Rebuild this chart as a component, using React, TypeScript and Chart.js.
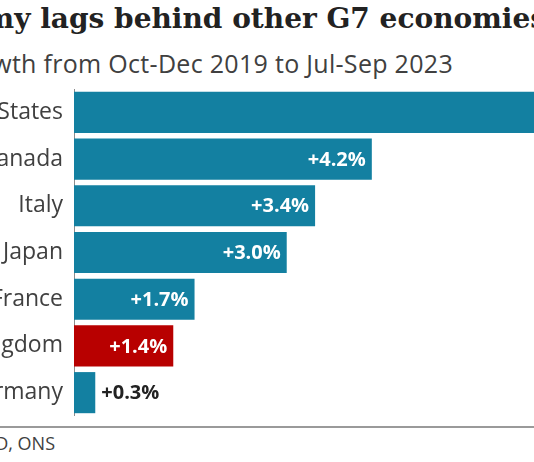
import React, { useEffect, useRef } from "react";
import { Chart, registerables } from "chart.js";

Chart.register(...registerables);

const countries = ["United States", "Canada", "Italy", "Japan", "France", "United Kingdom", "Germany"];
const growth = [7.4, 4.2, 3.4, 3.0, 1.7, 1.4, 0.3];
const highlight = ["United Kingdom"];

const TITLE = "Germany's economy lags behind other G7 economies";
const SUBTITLE = "GDP growth from Oct-Dec 2019 to Jul-Sep 2023";
const SOURCE = "Source: OECD, ONS";

const TEAL = "#1380A1";
const RED = "#B80000";
const SANS = "'Open Sans', 'Noto Sans', sans-serif";

const labelPlugin = {
  id: "valueLabels",
  afterDatasetsDraw(chart: any) {
    const ctx = chart.ctx;
    const meta = chart.getDatasetMeta(0);
    ctx.save();
    ctx.font = `bold 20px ${SANS}`;
    ctx.textBaseline = "middle";
    meta.data.forEach((bar: any, i: number) => {
      const v = growth[i];
      const text = `+${v.toFixed(1)}%`;
      const w = ctx.measureText(text).width;
      const barLen = bar.x - bar.base;
      if (barLen > w + 14) {
        ctx.fillStyle = "#ffffff";
        ctx.textAlign = "right";
        ctx.fillText(text, bar.x - 6, bar.y + 1);
      } else {
        ctx.fillStyle = "#222222";
        ctx.textAlign = "left";
        ctx.fillText(text, bar.x + 6, bar.y + 1);
      }
    });
    ctx.restore();
  },
};

export default function App() {
  const ref = useRef<HTMLCanvasElement | null>(null);

  useEffect(() => {
    if (!ref.current) return;
    const chart = new Chart(ref.current, {
      type: "bar",
      data: {
        labels: countries,
        datasets: [
          {
            data: growth,
            backgroundColor: countries.map((c) => (highlight.includes(c) ? RED : TEAL)),
            borderWidth: 0,
            barPercentage: 0.88,
            categoryPercentage: 1,
          },
        ],
      },
      options: {
        indexAxis: "y",
        animation: false,
        responsive: true,
        maintainAspectRatio: false,
        layout: { padding: 0 },
        plugins: { legend: { display: false }, tooltip: { enabled: false } },
        scales: {
          x: { display: false, min: 0, max: 7.7 },
          y: {
            afterFit(axis: any) {
              axis.width = 274;
              axis.paddingTop = 0;
              axis.paddingBottom = 0;
            },
            grid: { display: false, drawTicks: false },
            border: { display: true, color: "#8c8c8c", width: 1 },
            ticks: {
              padding: 11,
              color: "#404040",
              font: { family: SANS, size: 23 },
            },
          },
        },
      },
      plugins: [labelPlugin],
    });
    return () => chart.destroy();
  }, []);

  return (
    <div
      style={{
        position: "fixed",
        left: 0,
        top: 0,
        width: 534,
        height: 462,
        overflow: "hidden",
        background: "#ffffff",
      }}
    >
      <div
        style={{
          position: "absolute",
          right: -12,
          top: 2,
          whiteSpace: "nowrap",
          fontFamily: "'DejaVu Serif', serif",
          fontWeight: 600,
          fontSize: 28,
          color: "#222222",
        }}
      >
        {TITLE}
      </div>
      <div
        style={{
          position: "absolute",
          right: 534 - 453,
          top: 46,
          whiteSpace: "nowrap",
          fontFamily: SANS,
          fontSize: 25,
          letterSpacing: "0.3px",
          color: "#404040",
        }}
      >
        {SUBTITLE}
      </div>
      <div style={{ position: "absolute", left: -200, top: 89, width: 820, height: 327 }}>
        <canvas ref={ref} />
      </div>
      <div
        style={{
          position: "absolute",
          left: 0,
          top: 426,
          width: 534,
          height: 2,
          background: "#9a9a9a",
        }}
      />
      <div
        style={{
          position: "absolute",
          right: 534 - 55,
          top: 431,
          whiteSpace: "nowrap",
          fontFamily: SANS,
          fontSize: 18,
          color: "#404040",
        }}
      >
        {SOURCE}
      </div>
    </div>
  );
}
